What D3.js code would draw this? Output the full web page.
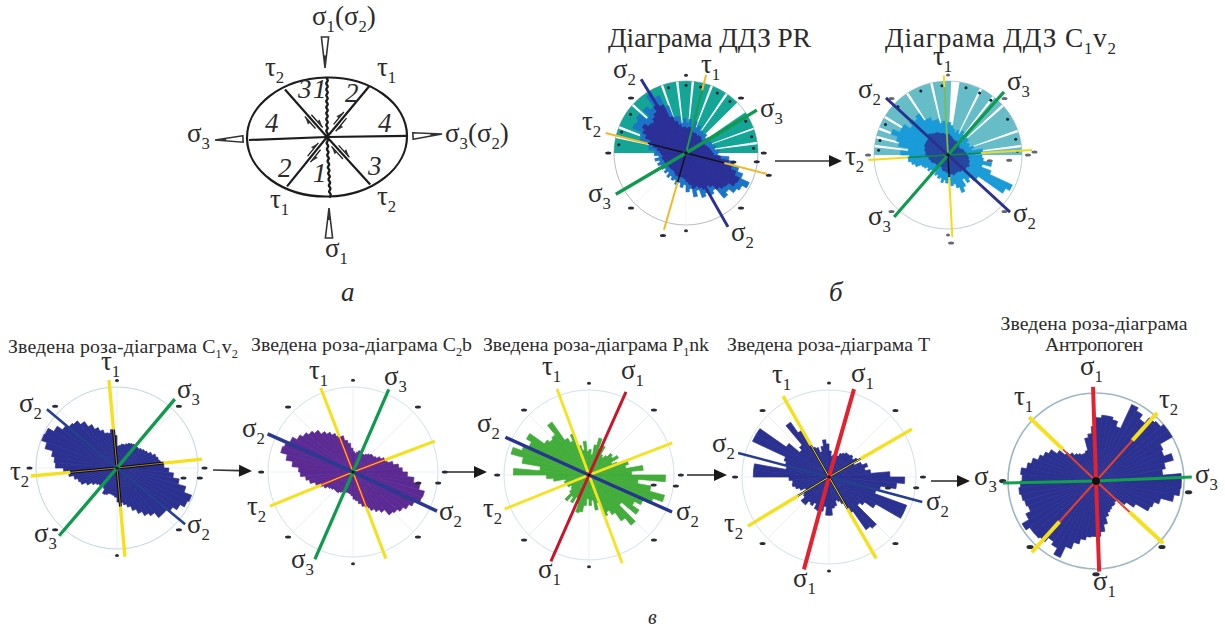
<!DOCTYPE html>
<html><head><meta charset="utf-8">
<style>html,body{margin:0;padding:0;background:#fff}svg{display:block}text{font-family:"Liberation Serif",serif;fill:#2b2b2b}</style>
<script src="https://cdn.jsdelivr.net/npm/d3@7/dist/d3.min.js"></script></head><body>
<script>
// ---------- DATA: rose-diagram frequencies, 5 degree bins clockwise from north, % of circle radius
const roseC1v2 = [27,28,30,30,32,34,35,36,36,36,38,40,42,46,50,52,54,58,64,70,78,88,98,96,90,84,80,80,72,68,62,56,50,46,43,42,36,34,33,33,35,36,30,28,30,30,32,36,42,48,50,54,60,66,76,78,82,92,99,98,90,82,78,76,70,62,55,50,45,44,48,40];
const roseC2b = [24,22,24,26,26,24,24,26,28,30,30,32,36,40,42,48,54,58,64,72,80,87,86,80,76,72,68,66,58,54,50,46,42,38,34,32,28,26,25,25,26,26,28,30,30,30,32,34,38,42,46,52,56,62,64,72,80,88,86,82,76,72,68,64,58,54,50,46,44,38,34,28];
const roseP1nk = [30,24,36,45,32,38,28,26,30,36,34,40,30,36,48,44,64,50,90,58,74,92,80,70,62,72,50,77,66,54,48,52,34,42,30,36,28,36,44,46,36,30,38,32,40,30,26,24,28,24,30,28,42,50,89,58,80,95,84,78,85,64,60,62,76,50,44,52,36,30,40,28];
const roseT = [30,24,26,24,26,30,32,34,34,36,34,38,32,40,46,42,48,70,87,78,60,56,95,95,62,50,46,77,74,48,34,30,28,34,36,44,44,34,40,41,40,34,38,36,42,42,36,34,30,36,40,43,42,46,87,87,50,52,55,97,97,60,44,48,77,62,38,36,30,36,43,38];
const roseAnthropogen = [72,75,75,72,66,96,92,86,94,96,100,100,84,82,91,80,76,97,97,96,90,76,70,68,52,42,32,32,34,34,36,38,42,50,58,63,63,64,68,74,82,96,88,84,90,92,92,97,88,82,84,86,88,86,84,86,80,76,70,66,62,54,46,42,38,36,34,34,36,50,54,62];
const rosePROuter = [42,47,38,46,38,42,36,38,36,38,34,38,36,38,38,42,40,46,44,60,68,76,84,97,90,86,78,82,64,68,62,66,54,62,50,54,44,48,42,46,40,42,38,42,36,40,36,40,38,42,38,44,38,44,42,52,52,66,68,82,80,84,72,84,78,96,88,70,52,52,42,48];
const rosePRInner = [34,36,34,30,30,30,28,30,30,28,28,30,28,28,30,32,34,36,38,48,60,66,74,82,80,72,70,66,58,54,56,52,48,50,44,40,36,34,34,34,34,32,30,30,30,30,30,32,32,32,32,34,32,34,36,40,46,52,60,66,70,64,62,66,70,78,74,54,46,40,36,36];
const roseCOuter = [44,40,36,32,36,32,38,34,38,34,34,30,32,30,36,32,47,36,46,48,60,48,62,96,90,50,50,42,46,38,48,54,46,40,42,34,38,34,38,32,34,30,32,28,34,30,34,32,36,38,46,50,54,52,64,54,68,72,82,72,72,62,68,64,68,56,56,50,50,44,46,42];
const roseCInner = [28,26,24,22,22,20,22,20,22,20,18,18,18,20,22,22,24,24,26,28,28,30,30,32,30,30,28,28,28,26,26,26,28,26,26,24,24,22,22,22,20,18,18,18,18,20,20,20,22,24,24,26,26,28,30,30,32,32,34,34,34,34,36,38,36,34,34,32,30,30,28,28];

// sector start / end angles and lengths of the large "teal" roses
const prSectorStart = [270,284,292,313,341.5,354,6.5,22,35.5,55.5,71,83];
const prSectorEnd   = [282,290,311,339.5,352,364.5,20,33.5,45.5,69.5,81,90];
const prSectorValue = [100,100,100,100,100,100,100,100,100,100,100,100];
const cSectorStart = [270,278,285,292,302,327.5,348,9,27.5,39,49,72,84];
const cSectorEnd   = [276,283,290,300,325.5,346,362.5,25.5,37,47,70,82,90];
const cSectorValue = [100,100,100,100,100,100,100,100,100,100,100,100,100];
const prDotAngles = [0,345,12.5,27.5,40.5,62,76,86,305,288,277];
const cDotAngles = [355,337,314,296,282,274,15,27,38,59,77,87];

// principal stress / shear axes: name, azimuth, length (% of radius)
const prArmNames = ["t1u","t1","t2","t2","s3","s3","s2","s2"];
const prArmAngles = [14.4,196,284,104.5,58.8,239.6,328.7,150.4];
const prArmLengths = [112,111,115,116,115,113,120,118];
const cArmNames = ["t1u","t1","t2","t2r","s3","s3","s2","s2"];
const cArmAngles = [357,177,266.4,86.6,41.6,221,312.6,132.6];
const cArmLengths = [108,111,108,114,114,111,114,114];
const b1ArmNames = ["t1","t1","t2","t2","s2","s2","s3","s3"];
const b1ArmAngles = [354.8,174.9,264.7,84,310,129.5,40,220.5];
const b1ArmLengths = [109,110,107,105.5,113,109,111,110];
const b2ArmNames = ["t1","t1","t2","t2","s2","s2","s3","s3"];
const b2ArmAngles = [339,159.2,247.7,69.3,294,114.9,23.4,203.6];
const b2ArmLengths = [106,109,105.5,103,110,109,106,112];
const b3ArmNames = ["t1","t1","t2","t2","s2","s2","s1","s1"];
const b3ArmAngles = [339.6,159.4,248,68.9,294.3,114,24,203.8];
const b3ArmLengths = [108,111,107,105,108,107,107,111];
const b4ArmNames = ["t1","t1","t2","t2","s2","s2","s1","s1"];
const b4ArmAngles = [330.4,149.9,238.8,60,284.8,105,15.9,195.2];
const b4ArmLengths = [107,108,109,110,108,111,105,110];
const b5ArmNames = ["t1","t1","t2","t2","s3","s3","s1","s1"];
const b5ArmAngles = [313.7,132.8,41.9,222,268.8,87.6,358.2,178];
const b5ArmLengths = [105,104,104,109,106,109,107,103];

const compassAngles = [0,45,90,135,180,225,270,315];
const b5MarkAngles = [270,97,225,135,180];
// extra scattered marks: azimuth / distance (% of radius)
const prExtraAngles = [100.7,97,105,195.6], prExtraDist = [67,99,119,119];
const cExtraAngles = [88,178,95,98], cExtraDist = [117,119,83,57];
const b1ExtraAngles = [98.6,96.9], b1ExtraDist = [83,103];
const b2ExtraAngles = [97.4,99.6], b2ExtraDist = [101,78];
const b3ExtraAngles = [97.2,98.8], b3ExtraDist = [103,77];
const b4ExtraAngles = [97,100.6], b4ExtraDist = [101,69];

// text
const roseBins = d3.range(0,360,5);
const titleTop = ["Діаграма ДДЗ PR","Діаграма ДДЗ C_1v_2"];
const titleBottom = ["Зведена роза-діаграма C_1v_2","Зведена роза-діаграма C_2b","Зведена роза-діаграма P_1nk","Зведена роза-діаграма T","Зведена роза-діаграма","Антропоген"];
const panelLetters = ["а","б","в"];
const schemeEnds = [[-.525,-.8],[.525,-.85],[-.5,.83],[.54,.8],[-.975,.05],[1.01,-.02]];
const schemeZones = ["4","4","3","1","2","2","1","3"];

// ---------- STYLE / LAYOUT
const W=1225,H=630;
const svg=d3.select("body").append("svg").attr("width",W).attr("height",H).attr("viewBox",[0,0,W,H]);
const blue="#2b3190",yellow="#f6e01c",green="#0f9a4e",red="#e4212f",teal="#14a596",lteal="#66bdc8";
const FS=27;

function label(str,x,y,size=FS,opts={}){
  const t=svg.append("text").attr("x",x).attr("y",y).attr("font-size",size)
    .attr("font-style",opts.italic?"italic":null).attr("text-anchor",opts.anchor||null);
  if(opts.width) t.attr("textLength",opts.width).attr("lengthAdjust","spacing");
  const parts=str.split(/_(.)/);
  let pending=0;
  parts.forEach((p,i)=>{
    if(!p) return;
    const sp=t.append("tspan").text(p);
    if(i%2){sp.attr("font-size",size*.62).attr("dy",size*.26);pending=-size*.26;}
    else{ if(pending){sp.attr("dy",pending);pending=0;} }
  });
  return t;
}
function arrow(x1,y1,x2,y2){
  const a=Math.atan2(y2-y1,x2-x1),L=13,w=6;
  const bx=x2-L*Math.cos(a),by=y2-L*Math.sin(a);
  svg.append("line").attr("x1",x1).attr("y1",y1).attr("x2",bx).attr("y2",by).attr("stroke","#333").attr("stroke-width",1.6);
  svg.append("path").attr("d",d3.line()([[x2,y2],[bx-w*Math.sin(a),by+w*Math.cos(a)],[bx+w*Math.sin(a),by-w*Math.cos(a)]])+"Z").attr("fill","#1a1a1a");
}

function rose(p){
  const g=svg.append("g").attr("transform",`translate(${p.cx},${p.cy})`);
  const r=d3.scaleLinear().domain([0,100]).range([0,p.R]);
  const rad=d=>d*Math.PI/180;
  const at=(ang,val)=>[r(val)*Math.sin(rad(ang)),-r(val)*Math.cos(rad(ang))];
  g.append("circle").attr("r",p.R).attr("fill","none").attr("stroke",p.ring||"#cfe2ec").attr("stroke-width",p.ringW||1);
  compassAngles.forEach(a=>{
    const e=at(a,100);
    g.append("line").attr("x1",0).attr("y1",0).attr("x2",e[0]).attr("y2",e[1]).attr("stroke",p.spoke||"#e2edf3").attr("stroke-width",.8);
  });
  const mk=(a,v)=>{const e=at(a,v);
    g.append("ellipse").attr("cx",e[0]).attr("cy",e[1]).attr("rx",p.bigMarks?3.6:(a%180==0?2:3)).attr("ry",p.bigMarks?2:1.5).attr("fill",p.markColor||"#2a2a3a");};
  (p.marks||compassAngles).forEach(a=>mk(a,p.markAt||108));
  const arc=d3.arc().innerRadius(0);
  const step=5;
  if(p.sectors){
    const s=p.sectors;
    g.append("g").selectAll("path").data(d3.range(s.start.length)).join("path")
      .attr("d",i=>arc({outerRadius:r(s.value[i]),startAngle:rad(s.start[i]),endAngle:rad(s.end[i])}))
      .attr("fill",p.sectorColor);
    s.dots.forEach(a=>{const e=at(a,94);g.append("circle").attr("cx",e[0]).attr("cy",e[1]).attr("r",1.5).attr("fill","#10222a");});
  }
  p.layers.forEach(l=>{
    g.append("g").selectAll("path").data(l.values).join("path")
      .attr("d",(v,i)=>arc({outerRadius:r(v),startAngle:rad(roseBins[i]),endAngle:rad(roseBins[i]+step)}))
      .attr("fill",l.color).attr("stroke",l.color).attr("stroke-width",.7);
  });
  if(p.extra) p.extra.a.forEach((a,i)=>mk(a,p.extra.d[i]));
  const line=d3.lineRadial().angle(d=>rad(d.a)).radius(d=>r(d.v));
  const order=d3.range(p.arms.names.length).sort((a,b)=>(p.arms.names[a][0]=="t"?0:1)-(p.arms.names[b][0]=="t"?0:1));
  order.forEach(i=>{
    const kind=p.arms.names[i],a=p.arms.angles[i],L=p.arms.lengths[i],st=p.armStyle[kind];
    const from=st.inner||0;
    if(from>0){
      if(st.innerBack) g.append("path").attr("d",line([{a,v:0},{a,v:from}])).attr("stroke",st.innerBack).attr("stroke-width",st.backW||2.6).attr("fill","none");
      g.append("path").attr("d",line([{a,v:0},{a,v:from}])).attr("stroke",st.innerColor).attr("stroke-width",st.innerW||1.3).attr("fill","none");
    }
    g.append("path").attr("d",line([{a,v:from},{a,v:L}])).attr("stroke",st.color).attr("stroke-width",st.w).attr("fill","none");
  });
  g.append("circle").attr("r",p.hub||1.6).attr("fill","#111");
}

const panels=[
 {cx:686,cy:153,R:72,ring:"#b4bcc4",spoke:"#f2f2f2",extra:{a:prExtraAngles,d:prExtraDist},
  sectors:{start:prSectorStart,end:prSectorEnd,value:prSectorValue,dots:prDotAngles},sectorColor:teal,
  layers:[{values:rosePROuter,color:"#1c74c6"},{values:rosePRInner,color:"#2b2f96"}],
  arms:{names:prArmNames,angles:prArmAngles,lengths:prArmLengths},
  armStyle:{t1u:{color:"#f0b92a",w:2,inner:90,innerColor:"#1e9a4a",innerW:2},t1:{color:"#f0b92a",w:2,inner:42,innerColor:"#111",innerW:1.4},t2:{color:"#f0b92a",w:2,inner:55,innerColor:"#111",innerW:1.4},s2:{color:"#2b2f96",w:3},s3:{color:green,w:3.4}}},
 {cx:948,cy:155,R:74,ring:"#bccdd4",spoke:"#f2f2f2",markColor:"#667",extra:{a:cExtraAngles,d:cExtraDist},
  sectors:{start:cSectorStart,end:cSectorEnd,value:cSectorValue,dots:cDotAngles},sectorColor:lteal,
  layers:[{values:roseCOuter,color:"#189bd8"},{values:roseCInner,color:"#26459e"}],
  arms:{names:cArmNames,angles:cArmAngles,lengths:cArmLengths},
  armStyle:{t1u:{color:"#f6d81c",w:2,inner:92,innerColor:"#7cbc4a",innerW:1.8},t1:{color:"#f6d81c",w:2,inner:30,innerColor:"#111",innerW:1.4},t2:{color:"#f6d81c",w:2,inner:55,innerColor:"#118a3c",innerW:1.6},t2r:{color:"#e8dc2a",w:2,inner:45,innerColor:"#118a3c",innerW:1.6},s2:{color:"#2b2f8e",w:2.8},s3:{color:green,w:3.2}}},
 {cx:117,cy:468,R:81,ring:"#bcd6e4",extra:{a:b1ExtraAngles,d:b1ExtraDist},layers:[{values:roseC1v2,color:blue}],
  arms:{names:b1ArmNames,angles:b1ArmAngles,lengths:b1ArmLengths},
  armStyle:{t1:{color:yellow,w:3.4,inner:48,innerColor:"#c8a028",innerW:.8,innerBack:"#0b0b18",backW:3},t2:{color:yellow,w:3.4,inner:58,innerColor:"#c8a028",innerW:.8,innerBack:"#0b0b18",backW:3},s2:{color:"#24408e",w:2.6},s3:{color:green,w:3.4}}},
 {cx:353,cy:472,R:85,extra:{a:b2ExtraAngles,d:b2ExtraDist},layers:[{values:roseC2b,color:"#5b2a93"}],
  arms:{names:b2ArmNames,angles:b2ArmAngles,lengths:b2ArmLengths},
  armStyle:{t1:{color:yellow,w:3,inner:44,innerColor:"#f2d42a",innerW:1,innerBack:"#e8242e",backW:2.4},t2:{color:yellow,w:3,inner:40,innerColor:"#f2d42a",innerW:1,innerBack:"#e8242e",backW:2.4},s2:{color:"#2a3a90",w:3.6},s3:{color:green,w:3.2}}},
 {cx:589,cy:475,R:85,extra:{a:b3ExtraAngles,d:b3ExtraDist},layers:[{values:roseP1nk,color:"#42ad3a"}],
  arms:{names:b3ArmNames,angles:b3ArmAngles,lengths:b3ArmLengths},
  armStyle:{t1:{color:"#f5e320",w:2.8},t2:{color:"#f5e320",w:2.8},s2:{color:"#283590",w:3.4},s1:{color:"#c8142c",w:3}}},
 {cx:829,cy:477,R:87,extra:{a:b4ExtraAngles,d:b4ExtraDist},layers:[{values:roseT,color:blue}],
  arms:{names:b4ArmNames,angles:b4ArmAngles,lengths:b4ArmLengths},
  armStyle:{t1:{color:yellow,w:3.4,inner:42,innerColor:yellow,innerW:1,innerBack:"#101018",backW:2},t2:{color:yellow,w:3.4,inner:42,innerColor:yellow,innerW:1,innerBack:"#101018",backW:2},s2:{color:"#24408e",w:2.4},s1:{color:red,w:4}}},
 {cx:1096,cy:481,R:88,ring:"#9cb8c4",ringW:1.6,spoke:"#fff",hub:4,marks:b5MarkAngles,markAt:106,bigMarks:true,layers:[{values:roseAnthropogen,color:blue}],
  arms:{names:b5ArmNames,angles:b5ArmAngles,lengths:b5ArmLengths},
  armStyle:{t1:{color:yellow,w:4,inner:52,innerColor:"#e8402a",innerW:2},t2:{color:yellow,w:4,inner:62,innerColor:"#e8402a",innerW:2},s3:{color:"#12a04a",w:3},s1:{color:red,w:4}}},
];
panels.forEach(rose);

// ---------- scheme (a)
(function(){
  const cx=327,cy=137,rx=80,ry=59.5;
  const sx=d3.scaleLinear().domain([-1,1]).range([cx-rx,cx+rx]);
  const sy=d3.scaleLinear().domain([-1,1]).range([cy-ry,cy+ry]);
  const g=svg.append("g").attr("fill","none").attr("stroke","#1c1c1c");
  g.append("ellipse").attr("cx",cx).attr("cy",cy).attr("rx",rx).attr("ry",ry).attr("stroke-width",2.2).attr("transform",`rotate(-1.2 ${cx} ${cy})`);
  schemeEnds.forEach(e=>g.append("line").attr("x1",cx).attr("y1",cy).attr("x2",sx(e[0])).attr("y2",sy(e[1])).attr("stroke-width",2.2));
  const wavy=d3.line().curve(d3.curveCatmullRom);
  [[0,-1],[.04,1.02]].forEach(e=>{
    const pts=d3.range(0,21).map(i=>{const t=i/20;return [cx+(sx(e[0])-cx)*t+(i%2?.7:-.7),cy+(sy(e[1])-cy)*t];});
    g.append("path").attr("d",wavy(pts)).attr("stroke-width",2.4);
  });
  schemeEnds.slice(0,4).forEach(e=>{
    const ex=sx(e[0])-cx,ey=sy(e[1])-cy,L=Math.hypot(ex,ey),ux=ex/L,uy=ey/L,nx=-uy,ny=ux;
    [1,-1].forEach(s=>{
      const a=[cx+ux*(s>0?10:14)+nx*3*s,cy+uy*(s>0?10:14)+ny*3*s],b=[cx+ux*(s>0?27:30)+nx*3*s,cy+uy*(s>0?27:30)+ny*3*s];
      g.append("line").attr("x1",a[0]).attr("y1",a[1]).attr("x2",b[0]).attr("y2",b[1]).attr("stroke-width",1.3);
      const tip=s>0?a:b,back=s>0?1:-1;
      g.append("path").attr("d",d3.line()([tip,[tip[0]+ux*8*back+nx*3*s,tip[1]+uy*8*back+ny*3*s],[tip[0]+ux*8*back,tip[1]+uy*8*back]])+"Z").attr("fill","#333").attr("stroke","none");
    });
  });
  function pressure(bx,by,tx,ty,w){
    const a=Math.atan2(ty-by,tx-bx),nx=-Math.sin(a),ny=Math.cos(a);
    svg.append("path").attr("d",d3.line()([[bx+nx*w,by+ny*w],[tx,ty],[bx-nx*w,by-ny*w]])+"Z").attr("fill","#fff").attr("stroke","#333").attr("stroke-width",1.6);
    const L=.4;
    const mx=tx+(bx-tx)*L,my=ty+(by-ty)*L;
    svg.append("path").attr("d",d3.line()([[mx+nx*w*L,my+ny*w*L],[tx,ty],[mx-nx*w*L,my-ny*w*L]])+"Z").attr("fill","#333");
  }
  pressure(325,37,325,68,3.6);pressure(329,238,329,208,3.6);pressure(243,139,215,140,3.2);pressure(413,136,442,134,3.2);
  const zx=[265,378,298,313,345,278,313,368],zy=[132,132,98,98,102,177,182,175];
  schemeZones.forEach((z,i)=>label(z,zx[i],zy[i],FS,{italic:true}));
})();

// ---------- labels
label("σ_1(σ_2)",312,25);label("τ_2",265,76);label("τ_1",377,76);label("σ_3",187,142);label("σ_3(σ_2)",445,142);label("τ_1",270,208);label("τ_2",377,205);label("σ_1",325,257);
label(panelLetters[0],341,301,FS,{italic:true});label(panelLetters[1],829,301,FS,{italic:true});label(panelLetters[2],648,624,20,{italic:true});

label(titleTop[0],608,47,27.3,{width:203});label(titleTop[1],885,47,27.3,{width:231});
label("σ_2",613,78);label("τ_1",701,73);label("σ_3",760,117);label("τ_2",582,130);label("σ_3",588,202);label("σ_2",731,241);
label("τ_1",933,65);label("σ_2",858,98);label("σ_3",1007,90);label("τ_2",845,165);label("σ_3",868,225);label("σ_2",1013,222);
label(titleBottom[0],8,353,19.8,{width:230});label(titleBottom[1],251,351,19.8,{width:221});label(titleBottom[2],483,351,19.8,{width:226});label(titleBottom[3],727,351,19.8,{width:203});
label(titleBottom[4],1094,330,19.8,{anchor:"middle",width:187});label(titleBottom[5],1094,351,19.8,{anchor:"middle",width:98});
label("τ_1",101,370);label("σ_2",19,412);label("σ_3",177,398);label("τ_2",10,480);label("σ_3",34,542);label("σ_2",187,533);
label("τ_1",309,379);label("σ_3",384,385);label("σ_2",242,437);label("τ_2",247,515);label("σ_3",291,568);label("σ_2",439,520);
label("τ_1",542,375);label("σ_1",621,379);label("σ_2",477,432);label("τ_2",483,517);label("σ_1",538,578);label("σ_2",676,520);
label("τ_1",772,383);label("σ_1",851,382);label("σ_2",712,452);label("τ_2",724,532);label("σ_1",793,587);label("σ_2",926,510);
label("σ_1",1080,375);label("τ_1",1014,405);label("τ_2",1159,408);label("σ_3",974,485);label("σ_3",1195,483);label("σ_1",1093,590);

arrow(775,161,842,161);arrow(213,470,252,471);arrow(447,472,487,472);arrow(687,475,727,475);arrow(931,481,970,481);
</script></body></html>
